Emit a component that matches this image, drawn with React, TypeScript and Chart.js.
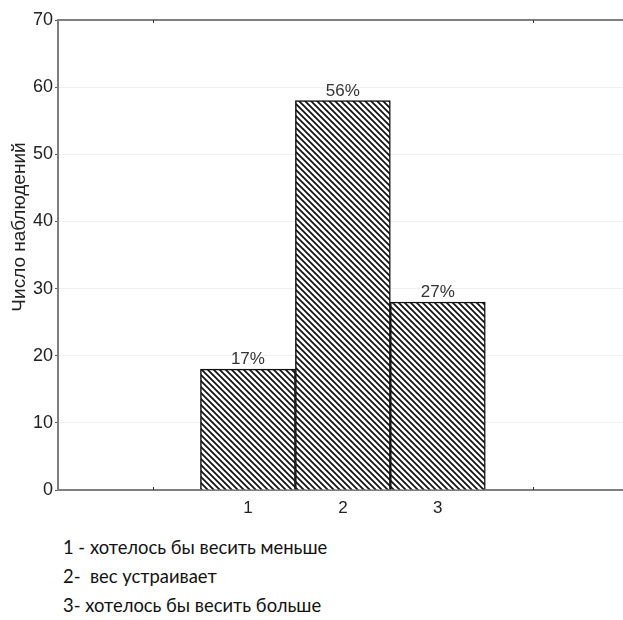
import React, { useEffect, useRef } from "react";
import { Chart, registerables } from "chart.js";

Chart.register(...registerables);

const categories = [1, 2, 3];
const counts = [18, 58, 28];
const percentLabels = ["17%", "56%", "27%"];
const yTicks = [0, 10, 20, 30, 40, 50, 60, 70];
const yTitle = "Число наблюдений";
const legendLines = [
  "1 - хотелось бы весить меньше",
  "2-  вес устраивает",
  "3- хотелось бы весить больше",
];

const ARIAL = '"Liberation Sans", Arial, sans-serif';

function makeHatch(): CanvasPattern | string {
  const s = 6;
  const c = document.createElement("canvas");
  c.width = s;
  c.height = s;
  const g = c.getContext("2d");
  if (!g) return "#888";
  g.fillStyle = "#ffffff";
  g.fillRect(0, 0, s, s);
  g.strokeStyle = "#111111";
  g.lineWidth = 1.7;
  g.beginPath();
  g.moveTo(-1, -1);
  g.lineTo(s + 1, s + 1);
  g.moveTo(-s - 1, -1);
  g.lineTo(1, s + 1);
  g.moveTo(s - 1, -1);
  g.lineTo(2 * s + 1, s + 1);
  g.stroke();
  const p = g.createPattern(c, "repeat");
  return p || "#888";
}

const decorPlugin = {
  id: "decor",
  afterDatasetsDraw(chart: any) {
    const ctx = chart.ctx;
    const area = chart.chartArea;
    const xs = chart.scales.x;
    const meta = chart.getDatasetMeta(0);
    ctx.save();
    // top border
    ctx.strokeStyle = "#7f7f7f";
    ctx.lineWidth = 2;
    ctx.beginPath();
    ctx.moveTo(area.left - 1, area.top);
    ctx.lineTo(area.right, area.top);
    ctx.stroke();
    // inward tick marks on x
    ctx.strokeStyle = "#333";
    ctx.lineWidth = 1;
    [0, 4].forEach((v) => {
      const px = Math.round(xs.getPixelForValue(v)) + 0.5;
      ctx.beginPath();
      ctx.moveTo(px, area.top);
      ctx.lineTo(px, area.top + 3);
      ctx.moveTo(px, area.bottom);
      ctx.lineTo(px, area.bottom - 3);
      ctx.stroke();
    });
    // percent labels
    ctx.fillStyle = "#333";
    ctx.font = "17px " + ARIAL;
    ctx.textAlign = "center";
    ctx.textBaseline = "bottom";
    meta.data.forEach((el: any, i: number) => {
      ctx.fillText(percentLabels[i], el.x, el.y - 1);
    });
    // y axis title
    ctx.translate(20, 227);
    ctx.rotate(-Math.PI / 2);
    ctx.fillStyle = "#222";
    ctx.font = "19px " + ARIAL;
    ctx.textAlign = "center";
    ctx.textBaseline = "middle";
    ctx.fillText(yTitle, 0, 0);
    ctx.restore();
  },
};

export default function App() {
  const ref = useRef<HTMLCanvasElement | null>(null);
  useEffect(() => {
    document.body.style.margin = "0";
    if (!ref.current) return;
    const hatch = makeHatch();
    const chart = new Chart(ref.current, {
      type: "bar",
      data: {
        datasets: [
          {
            data: categories.map((c, i) => ({ x: c, y: counts[i] })),
            backgroundColor: hatch as any,
            borderColor: "#111111",
            borderWidth: 1.5,
            barPercentage: 1,
            categoryPercentage: 1,
          },
        ],
      },
      options: {
        animation: false,
        responsive: false,
        maintainAspectRatio: false,
        layout: { padding: { top: 20, right: 0, left: 0, bottom: 0 } },
        plugins: { legend: { display: false }, tooltip: { enabled: false } },
        scales: {
          x: {
            type: "linear",
            offset: false,
            min: -1,
            max: 4.95,
            afterFit: (s: any) => {
              s.height = 30;
            },
            afterBuildTicks: (s: any) => {
              s.ticks = [0, 1, 2, 3, 4].map((v) => ({ value: v }));
            },
            ticks: {
              callback: (v: any) => (categories.includes(Number(v)) ? String(v) : ""),
              color: "#222",
              font: { family: ARIAL, size: 17 },
              padding: 8,
              maxRotation: 0,
              autoSkip: false,
            },
            grid: { display: false, drawTicks: false, offset: false },
            border: { display: true, color: "#7f7f7f", width: 2 },
          },
          y: {
            min: 0,
            max: 70,
            afterFit: (s: any) => {
              s.width = 58;
            },
            afterBuildTicks: (s: any) => {
              s.ticks = yTicks.map((v) => ({ value: v }));
            },
            ticks: {
              color: "#222",
              font: { family: ARIAL, size: 18 },
              padding: 2,
            },
            grid: {
              color: "#f0f0f0",
              tickColor: "#555",
              tickLength: 3,
              lineWidth: 1,
            },
            border: { display: true, color: "#7f7f7f", width: 2 },
          },
        },
      },
      plugins: [decorPlugin],
    });
    return () => chart.destroy();
  }, []);

  return (
    <div style={{ position: "relative", width: 623, height: 620, background: "#fff" }}>
      <canvas ref={ref} width={623} height={520} style={{ position: "absolute", left: 0, top: 0 }} />
      <div
        style={{
          position: "absolute",
          left: 63,
          top: 533,
          fontFamily: "Lato, 'Open Sans', sans-serif",
          fontSize: 18.4,
          lineHeight: "29px",
          color: "#111",
          whiteSpace: "pre",
        }}
      >
        {legendLines.map((l, i) => (
          <div key={i}>{l}</div>
        ))}
      </div>
    </div>
  );
}
